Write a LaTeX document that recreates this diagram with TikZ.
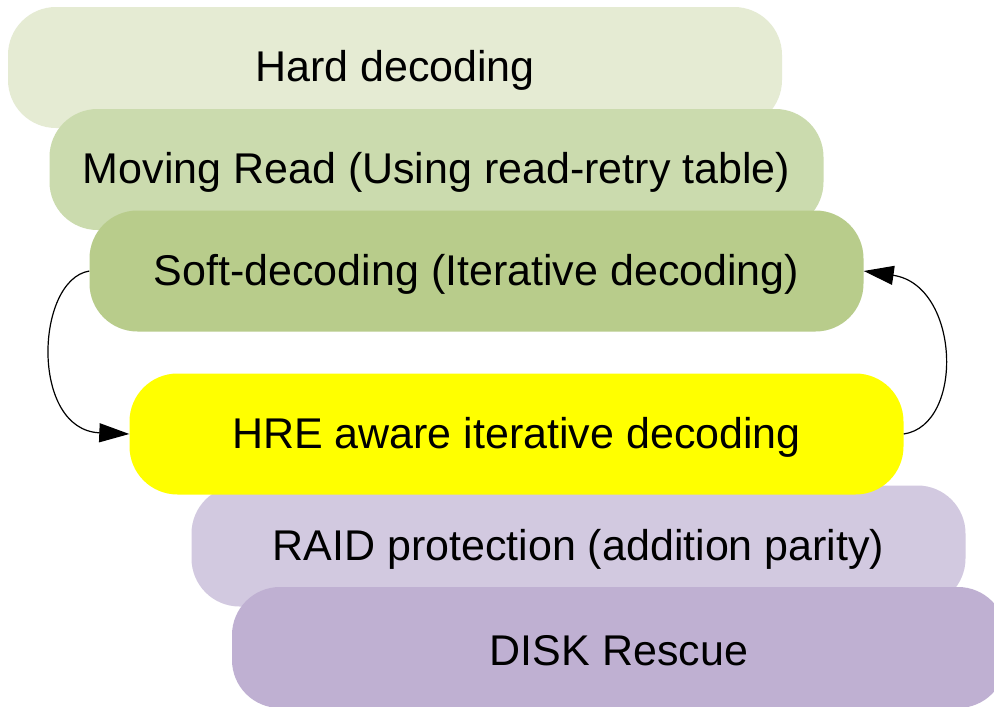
\documentclass[tikz,border=0pt]{standalone}
\usepackage{fontspec}
\setmainfont{Liberation Sans}
\usetikzlibrary{arrows.meta}
\definecolor{hardc}{HTML}{E5EBD3}
\definecolor{movec}{HTML}{CBDBAE}
\definecolor{softc}{HTML}{B8CC8B}
\definecolor{hrec}{HTML}{FFFF00}
\definecolor{raidc}{HTML}{D2C9E0}
\definecolor{diskc}{HTML}{BFB0D2}
% labels sit slightly below the geometric centre of each box
\newcommand{\stagetext}[1]{\raisebox{-3pt}[\height][\depth]{#1}}
\tikzset{
  stage/.style={rounded corners=48pt, minimum width=774pt, minimum height=121pt,
    inner sep=0pt, text=black, font=\fontsize{43}{50}\selectfont},
  loop/.style={line width=1.2pt, -{Triangle[length=30pt,width=19pt]}}
}
\begin{document}
\begin{tikzpicture}[x=1pt,y=-1pt]
  \clip (0,0) rectangle (994,707);
  \fill[white] (0,0) rectangle (994,707);
  \node[stage, fill=hardc] (hard) at (395,67.5) {\stagetext{Hard decoding}};
  \node[stage, fill=movec] (move) at (436.5,169.5) {\stagetext{Moving Read (Using read-retry table)}};
  \node[stage, fill=softc] (soft) at (476.5,271) {\stagetext{Soft-decoding (Iterative decoding)}};
  \node[stage, fill=raidc] (raid) at (578.5,546) {\stagetext{RAID protection (addition parity)}};
  \node[stage, fill=diskc] (disk) at (619,647.5) {\stagetext{DISK Rescue}};
  \node[stage, fill=hrec] (hre) at (516.5,434) {\stagetext{HRE aware iterative decoding}};
  % feedback loop between soft decoding and HRE-aware decoding
  \draw[loop] (soft.west) .. controls (35,280) and (30,430) .. (hre.west);
  \draw[loop] (hre.east) .. controls (965,425) and (960,285) .. (soft.east);
\end{tikzpicture}
\end{document}
